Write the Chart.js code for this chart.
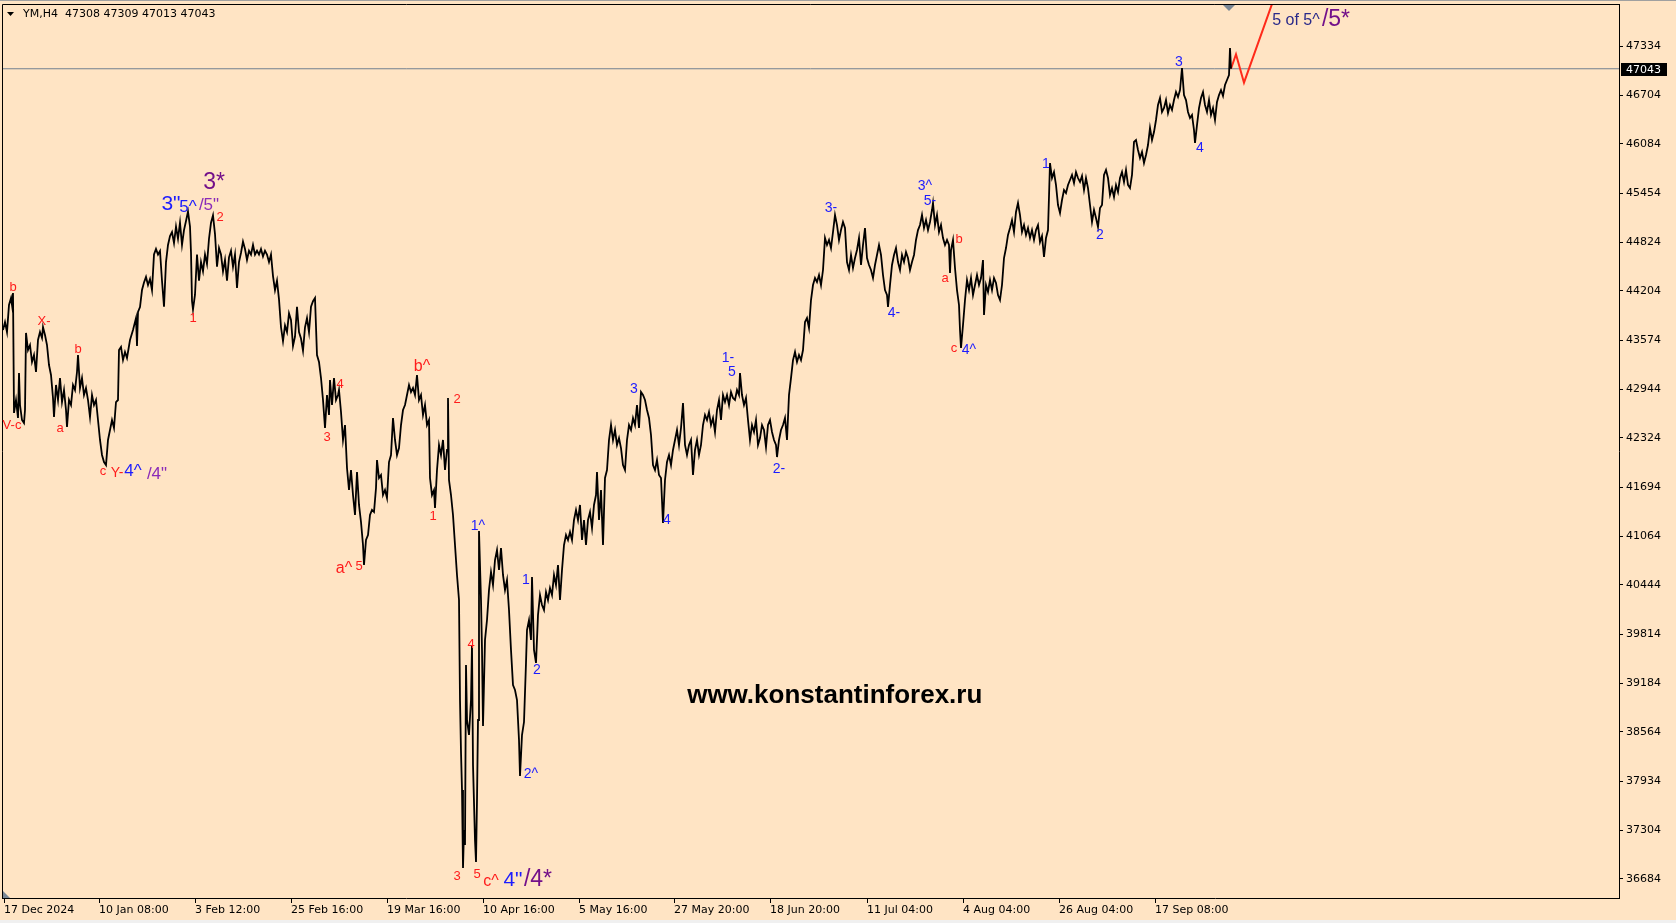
<!DOCTYPE html>
<html>
<head>
<meta charset="utf-8">
<title>YM,H4</title>
<script src="https://cdn.jsdelivr.net/npm/chart.js@4.4.1/dist/chart.umd.min.js"></script>
<style>
    html, body { margin: 0; padding: 0; background: #ffe4c4; }
    #wrap { width: 1676px; height: 923px; }
</style>
</head>
<body>
<div id="wrap"><canvas id="ymChart" width="1676" height="923"></canvas></div>
<script>
// bar number counted from 17 Dec 2024 (H4 bars), price
const pathBar = [
    0,2,4,6,8,9,10,11,13,15,
    16,17,19,21,22,23,25,27,29,31,
    33,35,37,39,40,42,44,46,48,50,
    51,53,55,57,59,61,63,64,66,68,
    70,72,74,75,77,79,81,83,85,87,
    89,91,93,95,97,99,101,103,105,107,
    109,111,113,115,116,118,120,122,124,127,
    130,133,134,135,137,
    139,141,143,145,147,149,151,153,155,157,
    159,161,163,165,167,169,171,173,175,177,
    179,181,183,185,187,188,189,190,192,194,
    196,198,200,202,204,206,208,210,212,214,
    216,218,220,222,224,226,228,230,232,234,
    236,238,240,242,244,246,248,250,252,254,
    256,258,260,262,264,266,268,270,272,274,
    276,278,280,282,284,286,288,290,292,294,
    296,298,300,302,304,306,308,310,312,314,
    316,318,320,322,324,326,
    327,329,331,333,335,336,338,340,342,344,
    346,348,350,352,354,356,358,360,361,363,
    365,367,369,371,373,374,376,378,380,382,
    384,386,388,390,392,394,396,398,400,402,
    404,406,408,410,412,414,416,418,420,422,
    424,426,427,429,431,432,434,436,438,440,
    442,444,445,446,448,450,452,454,456,457,
    458,459,460,461,462,463,464,466,468,469,
    470,472,473,474,475,476,478,479,480,482,
    484,486,488,490,492,494,496,498,500,502,
    504,506,508,510,512,514,516,517,519,521,
    523,524,526,528,529,531,533,535,537,539,
    541,543,545,547,549,551,553,555,557,559,
    561,563,565,567,569,571,573,575,577,579,
    581,583,585,587,589,591,593,594,596,598,
    600,602,604,606,608,610,612,614,616,618,
    620,622,624,626,628,630,632,634,636,638,
    640,642,644,646,648,650,652,654,656,658,
    660,662,664,666,668,670,672,674,676,678,
    680,682,684,686,688,690,692,694,696,698,
    700,702,704,706,708,710,712,714,716,718,
    720,722,724,726,728,730,732,734,736,737,
    739,741,743,745,747,749,751,753,755,757,
    759,761,763,765,767,769,771,773,774,776,
    778,780,782,784,786,788,790,792,794,796,
    798,800,802,804,806,808,810,812,814,816,
    818,820,822,824,826,828,830,832,834,836,
    838,840,842,844,846,848,850,852,854,856,
    858,860,862,864,866,868,870,872,874,876,
    878,880,882,884,885,887,889,891,893,895,
    897,899,901,903,905,907,909,911,913,915,
    917,919,921,923,925,927,929,930,932,934,
    936,938,940,942,944,946,947,948,950,952,
    954,956,957,958,960,962,964,966,968,970,
    972,974,976,978,980,981,983,985,987,989,
    991,993,995,997,999,1001,1003,1005,1007,1009,
    1011,1013,1015,1017,1019,1021,1023,1025,1027,1029,
    1031,1033,1035,1037,1039,1041,1043,1045,1047,1049,
    1051,1053,1055,1057,1059,1061,1063,1065,1067,1069,
    1071,1073,1075,1077,1079,1081,1083,1085,1087,1089,
    1091,1093,1095,1097,1099,1101,1103,1105,1107,1109,
    1111,1113,1115,1117,1119,1121,1123,1125,1127,1129,
    1131,1133,1135,1137,1139,1141,1143,1145,1147,1149,
    1151,1153,1155,1157,1159,1161,1163,1165,1167,1169,
    1171,1173,1175,1177,1179,1181,1183,1185,1187,1189,
    1191,1192,1194,1196,1198,1200,1202,1204,1206,1208,
    1210,1212,1214,1216,1218,1220,1222,1224,1226,1227,1228
];
const pathPrice = [
    43703,43805,43677,44023,44112,44023,44176,42642,42808,42578,
    43153,42744,42552,42514,42680,43665,43447,43511,43294,43383,
    43166,43575,43677,43601,43741,43639,43511,43255,43128,42834,
    42591,43000,42808,43089,42782,42936,42680,42463,42808,42744,
    43000,42936,43166,43383,42961,43089,42872,42961,42808,42591,
    42872,42744,42808,42552,42297,42105,42015,41977,42297,42424,
    42552,42450,42782,42808,43447,43486,43319,43422,43345,43575,
    43703,43856,43498,43933,43997,
    44214,44310,44381,44278,44355,44214,44668,44739,44668,44713,
    44333,44000,44572,44790,44905,44956,44815,45026,44870,45074,
    44790,44981,45097,45217,45026,44691,44074,43964,44154,44668,
    44333,44572,44453,44668,44547,44870,45074,45169,44930,44512,
    44751,44668,44453,44598,44333,44632,44716,44512,44668,44240,
    44572,44691,44834,44739,44598,44716,44668,44790,44668,44716,
    44668,44739,44644,44716,44668,44572,44668,44393,44214,44333,
    44095,43738,43562,43760,43677,43916,43831,43498,43617,44000,
    43677,43594,43438,43738,43856,43677,44000,44071,44112,43383,
    43294,43089,42808,42450,42872,42616,
    43064,42744,43089,42808,42872,42936,42655,42297,42488,41939,
    41657,41913,41593,41338,41887,41466,41248,40954,40698,41018,
    41082,41338,41402,41376,41683,42041,41811,41849,41593,41657,
    41555,42015,42105,42578,42297,42105,42194,42488,42680,42744,
    42872,43000,42910,42961,42872,43128,42808,42872,42616,42744,
    42488,42552,41811,41593,41657,41427,41913,42233,42105,42297,
    41913,42169,42834,41785,41593,41338,40954,40571,40251,38972,
    38308,37822,36825,37310,37119,39420,38717,38525,38972,39676,
    38141,37183,36901,37694,38717,41133,40251,39612,38640,39740,
    39995,40379,40609,40443,40762,40890,40635,40916,40571,40379,
    40507,40123,39612,39164,39100,38972,38461,38001,38525,38691,
    39446,39867,39995,39740,40545,39612,39446,40059,40315,40187,
    40123,40353,40251,40404,40315,40571,40443,40698,40251,40635,
    40954,41082,41018,41120,41018,41274,41402,41274,41466,41018,
    41274,40954,41274,41376,41172,41466,41593,41887,41274,41657,
    40954,41811,41913,42297,42488,42297,42424,42233,42322,42194,
    41977,41913,42297,42488,42424,42578,42488,42744,42450,42910,
    42872,42808,42680,42578,42361,41977,41913,42041,41849,41811,
    41235,41785,42015,42105,41977,42169,42297,42424,42233,42450,
    42770,42233,42105,42233,42297,41849,42169,42297,42105,42233,
    42488,42616,42552,42655,42488,42578,42399,42680,42808,42552,
    42872,42782,42872,42744,42910,42834,42808,42936,42872,43153,
    42872,42744,42834,42552,42297,42488,42399,42552,42233,42322,
    42488,42424,42207,42488,42552,42399,42297,42233,42079,42297,
    42424,42488,42578,42297,42872,43089,43319,43422,43294,43383,
    43319,43447,43805,43856,43729,44086,44278,44368,44317,44406,
    44278,44470,44879,44790,44854,44751,44956,45173,45045,44854,
    44981,45084,45007,44572,44470,44662,44496,44623,44726,44879,
    44534,44790,45007,44623,44534,44470,44368,44534,44662,44790,
    44662,44406,44214,44150,43997,44278,44534,44662,44751,44572,
    44470,44662,44572,44700,44623,44470,44572,44662,44854,44981,
    45045,45173,45007,45109,44981,45084,45237,45327,45045,45173,
    44956,45045,44879,44790,44854,44790,44432,44726,44854,44496,
    44214,44023,43703,43473,43767,44086,44342,44214,44368,44150,
    44278,44406,44278,44368,44598,43895,44278,44189,44342,44214,
    44368,44304,44150,44086,44278,44623,44751,44918,45007,45109,
    44956,45212,45327,45173,44956,45045,44918,45007,44879,44981,
    44854,44981,45045,44828,44905,44636,44879,44981,45838,45646,
    45723,45557,45301,45199,45365,45493,45454,45557,45621,45685,
    45582,45723,45646,45595,45672,45493,45646,45518,45301,45084,
    45237,45135,45020,45263,45301,45685,45749,45646,45429,45518,
    45403,45557,45467,45646,45723,45595,45749,45557,45518,45685,
    46107,46132,46004,45902,45979,45838,45940,46068,46286,46132,
    46234,46388,46580,46669,46490,46541,46643,46477,46580,46516,
    46643,46746,46682,46771,47053,46707,46643,46490,46413,46452,
    46260,46094,46324,46541,46669,46746,46580,46490,46643,46452,
    46541,46388,46618,46707,46771,46695,46835,46899,46963,47309,47043
];

// red projection drawn after the last bar
const forecastBar = [1228, 1233, 1241, 1280];
const forecastPrice = [47043, 47228, 46865, 48266];

const lastPrice = 47043;
const headerText = "YM,H4  47308 47309 47013 47043";
const watermark = "www.konstantinforex.ru";

const yTicks = [36684, 37304, 37934, 38564, 39184, 39814, 40444, 41064, 41694,
    42324, 42944, 43574, 44204, 44824, 45454, 46084, 46704, 47334];
const xTickBars = [1, 96, 192, 288, 384, 480, 576, 671, 767, 864, 960, 1056, 1152];
const xTickLabels = ["17 Dec 2024", "10 Jan 08:00", "3 Feb 12:00", "25 Feb 16:00", "19 Mar 16:00",
    "10 Apr 16:00", "5 May 16:00", "27 May 20:00", "18 Jun 20:00", "11 Jul 04:00",
    "4 Aug 04:00", "26 Aug 04:00", "17 Sep 08:00"];

// wave count marks
const noteText = ['b','V-c','X-','b','a','c','Y-','4^','/4"',
    '3*','3"','5^','/5"','2','1',
    '4','3','b^','2','1','a^','5','1^',
    '4','3','5','c^','4"','/4*',
    '1','2','2^','3','4','1-','5','2-',
    '3-','4-','3^','5-','b','a','c','4^',
    '1','2','3','4','5 of 5^','/5*'];
const noteBar = [10,9,41,75,57,100,114,130,154,
    211,168,185,206,217,190,
    337,324,419,454,430,341,356,475,
    468,454,474,488,510,535,
    523,534,528,631,664,725,729,776,
    828,891,922,927,956,942,951,966,
    1043,1097,1176,1197,1293,1333];
const notePrice = [44253,42488,43818,43460,42450,41900,41875,41900,41862,
    45582,45314,45276,45301,45148,43856,
    43013,42335,43230,42821,41325,40647,40686,41197,
    39688,36722,36748,36646,36671,36671,
    40507,39356,38027,42949,41274,43345,43166,41926,
    45263,43920,45544,45352,44866,44368,43473,43447,
    45825,44918,47129,46030,47654,47666];
const noteKind = ['r','r','r','r','r','r','rm','bm','p',
    'P','B','bm','p','r','r',
    'r','r','R','r','r','R','r','b',
    'r','r','r','R','B','P',
    'b','b','b','b','b','b','b','b',
    'b','b','b','b','r','r','r','b',
    'b','b','b','b','n','P'];
const noteStyle = {
    r:  { color: '#ff1c1c', size: 13 },
    rm: { color: '#ff1c1c', size: 14 },
    R:  { color: '#ff1c1c', size: 16 },
    b:  { color: '#1c1cff', size: 14 },
    bm: { color: '#1c1cff', size: 17 },
    B:  { color: '#1c1cff', size: 21 },
    p:  { color: '#8a2bb8', size: 17 },
    P:  { color: '#73108a', size: 23 },
    n:  { color: '#2a2a8a', size: 16 }
};

const axisFont = { family: 'DejaVu Sans', size: 11 };

const chartFrame = {
    id: 'chartFrame',
    beforeDraw(chart) {
        const c = chart.ctx;
        c.save();
        c.fillStyle = '#ffe4c4';
        c.fillRect(0, 0, chart.width, chart.height);
        c.fillStyle = '#a0a0a0';
        c.fillRect(0, 0, chart.width, 1);
        c.fillStyle = '#f0f0f0';
        c.fillRect(0, chart.height - 3, chart.width, 3);
        c.restore();
    },
    afterDatasetsDraw(chart) {
        const c = chart.ctx;
        const a = chart.chartArea;
        const xs = chart.scales.x, ys = chart.scales.y;
        c.save();
        // left and top frame
        c.strokeStyle = '#000';
        c.lineWidth = 1;
        c.beginPath();
        c.moveTo(a.left + 0.5, a.bottom);
        c.lineTo(a.left + 0.5, a.top + 0.5);
        c.lineTo(a.right, a.top + 0.5);
        c.stroke();

        // shift markers
        c.fillStyle = '#7a8795';
        const sx = xs.getPixelForValue(1226);
        c.beginPath();
        c.moveTo(sx - 6, a.top + 1);
        c.lineTo(sx + 6, a.top + 1);
        c.lineTo(sx, a.top + 7);
        c.closePath();
        c.fill();
        c.beginPath();
        c.moveTo(a.left + 1, a.bottom - 7);
        c.lineTo(a.left + 1, a.bottom);
        c.lineTo(a.left + 8, a.bottom);
        c.closePath();
        c.fill();

        // wave labels
        c.textAlign = 'center';
        c.textBaseline = 'middle';
        for (let i = 0; i < noteText.length; i++) {
            const st = noteStyle[noteKind[i]];
            c.fillStyle = st.color;
            c.font = st.size + 'px "Liberation Sans", Arial, sans-serif';
            c.fillText(noteText[i], xs.getPixelForValue(noteBar[i]), ys.getPixelForValue(notePrice[i]));
        }

        // site watermark
        c.fillStyle = '#000';
        c.font = 'bold 26px "Liberation Sans", Arial, sans-serif';
        c.fillText(watermark, a.left + a.width * 0.515, a.top + a.height * 0.774);

        // header line
        c.textAlign = 'left';
        c.font = '11px "DejaVu Sans"';
        c.fillText(headerText, a.left + 21, a.top + 10);
        c.beginPath();
        c.moveTo(a.left + 5, a.top + 8);
        c.lineTo(a.left + 12, a.top + 8);
        c.lineTo(a.left + 8.5, a.top + 12);
        c.closePath();
        c.fill();

        // last price box
        const py = ys.getPixelForValue(lastPrice);
        c.fillStyle = '#000';
        c.fillRect(a.right + 2, Math.round(py) - 6, 46, 13);
        c.fillStyle = '#fff';
        c.fillText(String(lastPrice), a.right + 7, Math.round(py) + 1);
        c.restore();
    }
};

var area = document.getElementById("ymChart").getContext("2d");
var ymChart = new Chart(area, {
    type: 'line',
    data: {
        datasets: [{
            data: pathBar.map((b, i) => ({ x: b, y: pathPrice[i] })),
            borderColor: '#000',
            borderWidth: 1.8,
            pointRadius: 0,
            tension: 0,
            clip: 0
        }, {
            data: forecastBar.map((b, i) => ({ x: b, y: forecastPrice[i] })),
            borderColor: '#ff2a1a',
            borderWidth: 2,
            pointRadius: 0,
            tension: 0,
            clip: 0
        }, {
            data: [{ x: -1, y: lastPrice }, { x: 1616, y: lastPrice }],
            borderColor: '#728090',
            borderWidth: 1,
            pointRadius: 0,
            clip: 0,
            order: 5
        }]
    },
    options: {
        responsive: false,
        animation: false,
        devicePixelRatio: 1,
        layout: { padding: { left: 2, top: 4, right: 0, bottom: 0 } },
        plugins: {
            legend: { display: false },
            tooltip: { enabled: false }
        },
        scales: {
            x: {
                type: 'linear',
                min: -1,
                max: 1616,
                afterFit: function (s) { s.height = 25; s.paddingLeft = 0; s.paddingRight = 0; },
                afterBuildTicks: function (s) { s.ticks = xTickBars.map(v => ({ value: v })); },
                ticks: {
                    autoSkip: false,
                    maxRotation: 0,
                    align: 'start',
                    padding: 1,
                    color: '#000',
                    font: axisFont,
                    callback: function (value, index) { return xTickLabels[index]; }
                },
                grid: { display: true, drawOnChartArea: false, drawTicks: true, tickLength: 5, color: '#000' },
                border: { display: true, color: '#000' }
            },
            y: {
                position: 'right',
                min: 36441,
                max: 47871,
                afterFit: function (s) { s.width = 57; s.paddingTop = 0; s.paddingBottom = 0; },
                afterBuildTicks: function (s) { s.ticks = yTicks.map(v => ({ value: v })); },
                ticks: {
                    padding: 3,
                    color: '#000',
                    font: axisFont,
                    callback: function (value) { return String(value); }
                },
                grid: { display: true, drawOnChartArea: false, drawTicks: true, tickLength: 4, color: '#000' },
                border: { display: true, color: '#000' }
            }
        }
    },
    plugins: [chartFrame]
});
</script>
</body>
</html>
